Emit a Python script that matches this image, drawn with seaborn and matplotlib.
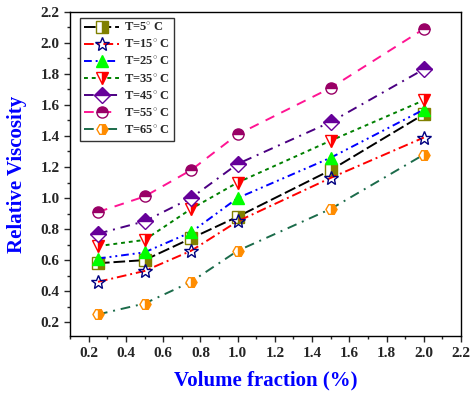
import pandas as pd
import matplotlib
matplotlib.use("Agg")
import matplotlib.pyplot as plt
import seaborn as sns
from matplotlib.ticker import MultipleLocator

volume = [0.25, 0.5, 0.75, 1.0, 1.5, 2.0]
labels = ["T=5$^{\\circ}$ C", "T=15$^{\\circ}$ C", "T=25$^{\\circ}$ C", "T=35$^{\\circ}$ C",
          "T=45$^{\\circ}$ C", "T=55$^{\\circ}$ C", "T=65$^{\\circ}$ C"]
t5 = [0.58, 0.60, 0.74, 0.88, 1.18, 1.54]
t15 = [0.46, 0.53, 0.66, 0.85, 1.13, 1.39]
t25 = [0.61, 0.65, 0.78, 1.00, 1.26, 1.57]
t35 = [0.69, 0.73, 0.93, 1.10, 1.37, 1.63]
t45 = [0.77, 0.85, 1.00, 1.22, 1.49, 1.83]
t55 = [0.91, 1.01, 1.18, 1.41, 1.71, 2.09]
t65 = [0.25, 0.32, 0.46, 0.66, 0.93, 1.28]
series = [t5, t15, t25, t35, t45, t55, t65]

sns.set_style("ticks")
plt.rcParams['font.family'] = ['Liberation Serif', 'DejaVu Serif']
plt.rcParams['mathtext.fontset'] = 'custom'
plt.rcParams['mathtext.rm'] = 'Liberation Serif:bold'

# line colour, dashes, marker, marker colour, fillstyle
styles = [
    ("black", (6, 2), "s", "#808000", "right"),
    ("red", (5, 2, 1, 2), "*", "#000080", "none"),
    ("blue", (4, 2, 1, 2, 1, 2), "^", "#00ff00", "full"),
    ("green", (2, 2), "v", "red", "right"),
    ("#4b0082", (5, 3, 1, 3), "D", "#660099", "top"),
    ("#ff1493", (5, 4), "o", "#990066", "top"),
    ("#1b6b4a", (5, 3, 1, 3), "H", "#ff8c00", "right"),
]

df = pd.DataFrame({"volume": volume})
for lab, vals in zip(labels, series):
    df[lab] = vals

fig = plt.figure(figsize=(4.7, 3.95), dpi=100)
ax = fig.add_axes([0.149, 0.149, 0.832, 0.821])

for lab, (lc, dash, mk, mc, fs) in zip(labels, styles):
    ms = 10 if mk == "*" else 8
    kw = dict(marker=mk, markersize=ms, markeredgecolor=mc, markerfacecolor=mc,
              fillstyle=fs, markerfacecoloralt="white", markeredgewidth=1.0)
    if fs == "none":
        kw.pop("markerfacecolor")
        kw.pop("markerfacecoloralt")
    sns.lineplot(data=df, x="volume", y=lab, ax=ax, color=lc, dashes=False,
                 label=lab, linewidth=1.4, **kw)
    ax.lines[-1].set_dashes(dash)

ax.set_xlim(0.1, 2.2)
ax.set_ylim(0.11, 2.2)
ax.xaxis.set_major_locator(MultipleLocator(0.2))
ax.xaxis.set_minor_locator(MultipleLocator(0.1))
ax.yaxis.set_major_locator(MultipleLocator(0.2))
ax.yaxis.set_minor_locator(MultipleLocator(0.1))
ax.set_xticks([0.2, 0.4, 0.6, 0.8, 1.0, 1.2, 1.4, 1.6, 1.8, 2.0, 2.2])
ax.tick_params(which="major", length=4, width=1, labelsize=11)
ax.tick_params(which="minor", length=2, width=1)
for t in ax.get_xticklabels() + ax.get_yticklabels():
    t.set_fontweight("bold")
for s in ax.spines.values():
    s.set_linewidth(1.0)
    s.set_color("black")

ax.set_xlabel("Volume fraction (%)", color="blue", fontsize=15, fontweight="bold", labelpad=8)
ax.set_ylabel("Relative Viscosity", color="blue", fontsize=15, fontweight="bold", labelpad=10)

leg = ax.legend(loc="upper left", bbox_to_anchor=(0.02, 0.99), frameon=True, fancybox=False,
                edgecolor="black", prop={"weight": "bold", "size": 9}, handlelength=2.8,
                labelspacing=0.35, borderpad=0.3, handletextpad=0.4, borderaxespad=0.2)
leg.get_frame().set_linewidth(1.0)

fig.savefig("out.png", dpi=100)
